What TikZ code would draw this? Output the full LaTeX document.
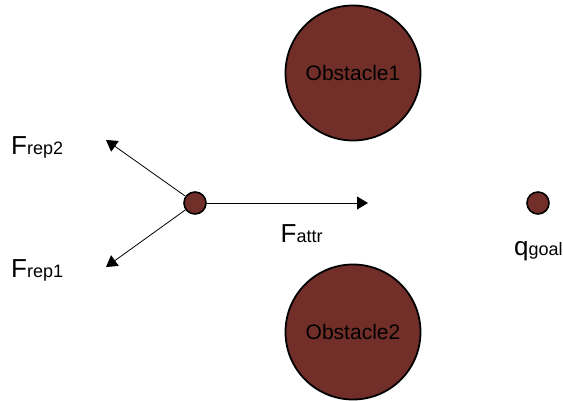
\documentclass[tikz,border=0pt]{standalone}
\usepackage{fontspec}
\setmainfont{Liberation Sans}
\usetikzlibrary{arrows.meta}
\definecolor{brownred}{RGB}{114,47,41}
\tikzset{
  obst/.style={circle, draw=black, line width=1.8pt, fill=brownred, minimum size=135pt, inner sep=0pt, font=\fontsize{21}{24}\selectfont},
  dot/.style={circle, draw=black, line width=1.6pt, fill=brownred, minimum size=22pt, inner sep=0pt},
  force/.style={line width=0.8pt, -{Triangle[length=11pt, width=13pt]}},
  lab/.style={inner sep=0pt, anchor=base west},
}
\newcommand{\flab}[2]{{\fontsize{26}{28}\selectfont #1}{\fontsize{18}{20}\selectfont #2}}
\begin{document}
\begin{tikzpicture}[x=1pt, y=-1pt]
\useasboundingbox (0,0) rectangle (563,401);
\node[obst] (o1) at (353,73) {\raisebox{-5pt}{Obstacle1}};
\node[obst] (o2) at (353,332) {\raisebox{-4pt}{Obstacle2}};
\node[dot] (r) at (195,203) {};
\node[dot] (g) at (538,203) {};
\coordinate (attr) at (368,203);
\coordinate (rep2) at (106,140);
\coordinate (rep1) at (106,267);
\draw[force] (r) -- (attr);
\draw[force] (r) -- (rep2);
\draw[force] (r) -- (rep1);
\node[lab] (lrep2) at (11,155) {\flab{F}{rep2}};
\node[lab] (lrep1) at (11,277) {\flab{F}{rep1}};
\node[lab] (lattr) at (280.5,243) {\flab{F}{attr}};
\node[lab] (lgoal) at (514,255) {\flab{q}{goal}};
\end{tikzpicture}
\end{document}
